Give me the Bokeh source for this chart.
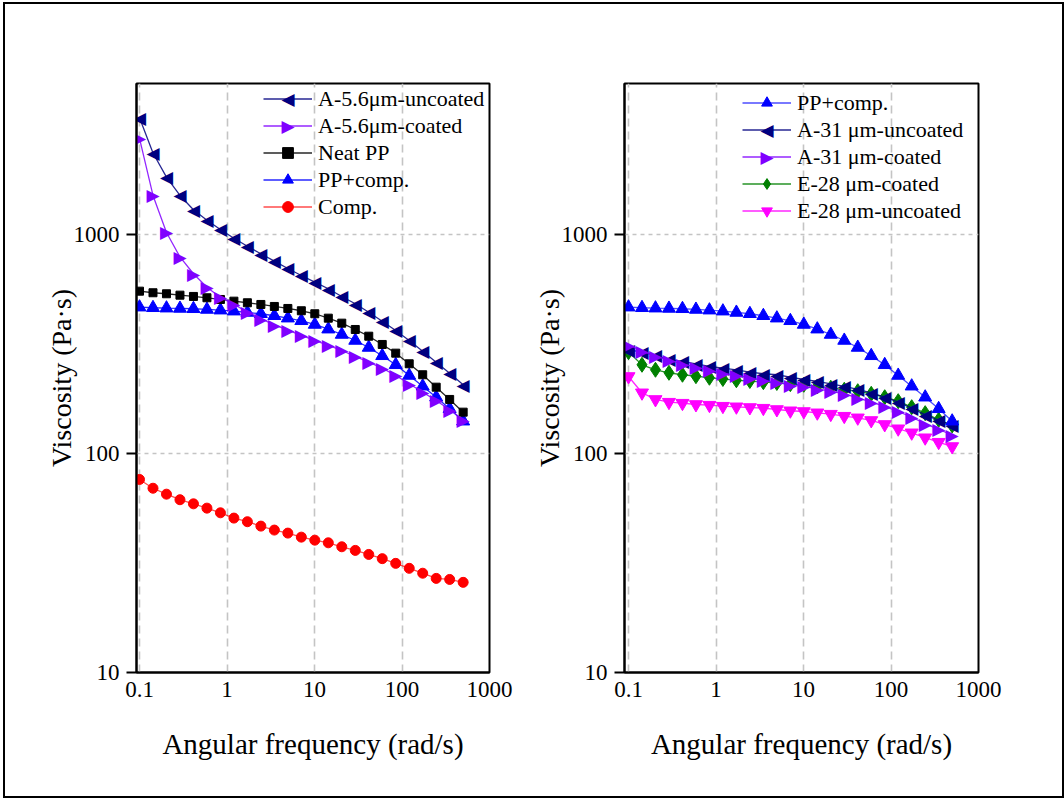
import math
from bokeh.plotting import figure
from bokeh.models import Legend, LegendItem, FixedTicker, Range1d, ColumnDataSource, Label
from bokeh.core.properties import value
from bokeh.layouts import row
from bokeh.embed import file_html
from bokeh.resources import INLINE

# ---------------- data ----------------
freq = [0.1, 0.1426, 0.2034, 0.2900, 0.4136, 0.5898, 0.8410, 1.199, 1.710, 2.438,
        3.477, 4.959, 7.071, 10.08, 14.38, 20.50, 29.24, 41.69, 59.45, 84.78,
        120.9, 172.4, 245.9, 350.6, 500.0]

a56_uncoated = [3412, 2356, 1827, 1507, 1297, 1162, 1054, 960.7, 883.4, 816.4,
                755.3, 699.3, 649.9, 605.6, 565.1, 521.2, 482.6, 441.7, 401.9, 364.4,
                328.1, 293.2, 261.2, 232.6, 205.9]
a56_coated = [2744, 1507, 1021, 789.4, 661.5, 574.6, 515.7, 480.5, 441.7, 412.2,
              386.2, 366.0, 346.5, 328.1, 311.3, 295.4, 277.3, 261.2, 245.2, 227.1,
              208.1, 190.5, 174.6, 158.3, 142.5]
neat_pp = [551.0, 541.8, 536.1, 528.3, 521.2, 514.0, 504.9, 496.0, 487.7, 479.1,
           469.1, 459.4, 448.4, 434.5, 414.8, 393.6, 368.3, 343.2, 314.6, 287.1,
           256.8, 228.8, 200.8, 176.5, 154.4]
pp_comp = [465.6, 462.7, 460.8, 459.4, 457.9, 454.5, 451.2, 446.5, 440.4, 434.5,
           425.5, 414.8, 403.6, 388.2, 369.5, 349.4, 328.1, 304.8, 279.3, 254.1,
           227.1, 202.9, 180.7, 160.0, 140.4]
comp = [76.1, 69.4, 65.2, 61.5, 58.9, 56.3, 53.6, 50.7, 48.8, 46.6,
        44.7, 43.3, 41.5, 40.2, 39.1, 37.5, 36.1, 34.6, 33.1, 31.5,
        29.9, 28.4, 26.9, 26.6, 25.8]
a31_uncoated = [297.6, 290.2, 280.3, 268.7, 263.1, 256.8, 249.6, 245.2, 241.1, 235.0,
                231.2, 228.8, 223.1, 217.7, 213.2, 208.1, 202.3, 196.0, 189.3, 180.7,
                171.5, 161.0, 150.2, 141.5, 134.3]
a31_coated = [313.6, 293.2, 278.2, 265.9, 256.8, 247.8, 239.3, 232.6, 227.1, 221.7,
              215.4, 211.0, 205.9, 202.3, 197.4, 192.5, 187.3, 179.6, 171.5, 163.9,
              155.5, 146.5, 136.7, 128.7, 121.7]
e28_coated = [290.2, 254.1, 241.1, 233.6, 228.8, 225.4, 221.7, 218.9, 215.9, 214.3,
              211.7, 209.9, 207.3, 205.9, 202.3, 199.5, 195.4, 192.5, 187.3, 180.7,
              173.3, 162.7, 152.8, 142.5, 134.3]
e28_uncoated = [224.7, 189.3, 176.5, 171.5, 169.7, 167.4, 166.2, 164.4, 163.4, 162.2,
                161.0, 158.8, 156.7, 155.5, 153.4, 151.2, 148.0, 145.5, 141.5, 135.7,
                129.7, 124.3, 118.0, 112.6, 107.6]

x_ticks = [0.1, 1, 10, 100, 1000]
x_tick_labels = ["0.1", "1", "10", "100", "1000"]
y_ticks = [10, 100, 1000]
y_tick_labels = ["10", "100", "1000"]

left_names = ["A-5.6\u03bcm-uncoated", "A-5.6\u03bcm-coated", "Neat PP", "PP+comp.", "Comp."]
right_names = ["PP+comp.", "A-31 \u03bcm-uncoated", "A-31 \u03bcm-coated",
               "E-28 \u03bcm-coated", "E-28 \u03bcm-uncoated"]

FONT = "Liberation Serif"
SYM_FONT = "DejaVu Sans"
LEFT_TRI = "\u25c0"
RIGHT_TRI = "\u25b6"
TRI_SIZE = "17px"

ROW_H = 27
GLYPH_W = 49


def make_fig(width, min_left, min_right, x_start):
    p = figure(width=width, height=792, x_axis_type="log", y_axis_type="log",
               x_range=Range1d(x_start, 1000), y_range=Range1d(10, 4890),
               output_backend="svg", toolbar_location=None,
               min_border_left=min_left, min_border_right=min_right,
               min_border_top=79, min_border_bottom=124)
    p.outline_line_color = "black"
    p.outline_line_width = 2
    p.outline_line_alpha = 1
    for ax in (p.xaxis[0], p.yaxis[0]):
        ax.axis_line_width = 2
        ax.axis_line_color = "black"
        ax.major_label_text_font = FONT
        ax.major_label_text_font_size = "23px"
        ax.major_label_text_color = "black"
        ax.axis_label_text_font = FONT
        ax.axis_label_text_font_style = "normal"
        ax.axis_label_text_color = "black"
        ax.minor_tick_in = 0
        ax.minor_tick_out = 0
    p.xaxis.ticker = FixedTicker(ticks=x_ticks)
    p.xaxis.major_label_overrides = dict(zip(x_ticks, x_tick_labels))
    p.xaxis.major_tick_in = 0
    p.xaxis.major_tick_out = 0
    p.xaxis.major_label_standoff = 9
    p.xaxis.axis_label = "Angular frequency (rad/s)"
    p.xaxis.axis_label_text_font_size = "29px"
    p.xaxis.axis_label_standoff = 28
    p.yaxis.ticker = FixedTicker(ticks=y_ticks)
    p.yaxis.major_label_overrides = dict(zip(y_ticks, y_tick_labels))
    p.yaxis.major_tick_in = 0
    p.yaxis.major_tick_out = 10
    p.yaxis.major_tick_line_width = 2
    p.yaxis.major_label_standoff = 7
    p.yaxis.axis_label = "Viscosity (Pa\u00b7s)"
    p.yaxis.axis_label_text_font_size = "28px"
    p.yaxis.axis_label_standoff = -6
    p.xgrid.ticker = FixedTicker(ticks=x_ticks)
    p.ygrid.ticker = FixedTicker(ticks=y_ticks)
    p.xgrid.grid_line_color = "#c4c4c4"
    p.xgrid.grid_line_dash = "8 5"
    p.xgrid.grid_line_width = 1.6
    p.ygrid.grid_line_color = "#c4c4c4"
    p.ygrid.grid_line_dash = "4 4"
    p.ygrid.grid_line_width = 1.4
    return p


def series(p, y, color, marker, size, line_alpha=0.85):
    src = ColumnDataSource(dict(x=freq, y=y))
    ln = p.line("x", "y", source=src, line_color=color, line_width=1.3, line_alpha=line_alpha)
    sc = p.scatter("x", "y", source=src, marker=marker, size=size,
                   fill_color=color, line_color=color)
    return [ln, sc]


def tri_series(p, y, color, sym, line_alpha=0.85):
    src = ColumnDataSource(dict(x=freq, y=y, t=[sym] * len(freq)))
    ln = p.line("x", "y", source=src, line_color=color, line_width=1.3, line_alpha=line_alpha)
    tx = p.text("x", "y", text="t", source=src, text_font=value(SYM_FONT),
                text_font_size=TRI_SIZE, text_color=color,
                text_align="center", text_baseline="middle")
    return [ln, tx]


def add_legend(p, items, loc):
    lg = Legend(items=[LegendItem(label=n, renderers=r) for n, r, _ in items],
                location=loc, padding=0, margin=0, spacing=0,
                glyph_width=GLYPH_W, glyph_height=ROW_H, label_height=ROW_H,
                label_standoff=6, border_line_alpha=0, background_fill_alpha=0,
                label_text_font=FONT, label_text_font_size="22px",
                label_text_color="black")
    p.add_layout(lg)
    n = len(items)
    top = loc[1] + n * ROW_H
    for i, (_, _, tri) in enumerate(items):
        if tri is None:
            continue
        sym, color = tri
        p.add_layout(Label(x=loc[0] + GLYPH_W / 2, y=top - ROW_H / 2 - i * ROW_H,
                           x_units="screen", y_units="screen", text=sym,
                           text_font=SYM_FONT, text_font_size=TRI_SIZE,
                           text_color=color, text_align="center",
                           text_baseline="middle"))


# left panel
p1 = make_fig(515, 131, 31, 0.0924)
r_comp = series(p1, comp, "#ff0000", "circle", 10, line_alpha=0.7)
r_pp = series(p1, pp_comp, "#0000ff", "triangle", 13)
r_neat = series(p1, neat_pp, "#000000", "square", 8)
r_a56c = tri_series(p1, a56_coated, "#8000ff", RIGHT_TRI)
r_a56u = tri_series(p1, a56_uncoated, "#000080", LEFT_TRI)
add_legend(p1, [(left_names[0], r_a56u, (LEFT_TRI, "#000080")),
                (left_names[1], r_a56c, (RIGHT_TRI, "#8000ff")),
                (left_names[2], r_neat, None),
                (left_names[3], r_pp, None),
                (left_names[4], r_comp, None)], (127, 452))

# right panel
p2 = make_fig(542, 104, 84, 0.0900)
r2_e28u = series(p2, e28_uncoated, "#ff00ff", "inverted_triangle", 13)
r2_e28c = series(p2, e28_coated, "#008000", "diamond", 15)
r2_a31u = tri_series(p2, a31_uncoated, "#000080", LEFT_TRI)
r2_a31c = tri_series(p2, a31_coated, "#8000ff", RIGHT_TRI)
r2_pp = series(p2, pp_comp, "#0000ff", "triangle", 13, line_alpha=0.7)
add_legend(p2, [(right_names[0], r2_pp, None),
                (right_names[1], r2_a31u, (LEFT_TRI, "#000080")),
                (right_names[2], r2_a31c, (RIGHT_TRI, "#8000ff")),
                (right_names[3], r2_e28c, None),
                (right_names[4], r2_e28u, None)], (118, 448))

layout = row(p1, p2, styles={"margin-left": "3px", "margin-top": "2px",
                             "border": "2px solid black", "background": "white"})

open("out.html", "w").write(file_html(layout, INLINE))
